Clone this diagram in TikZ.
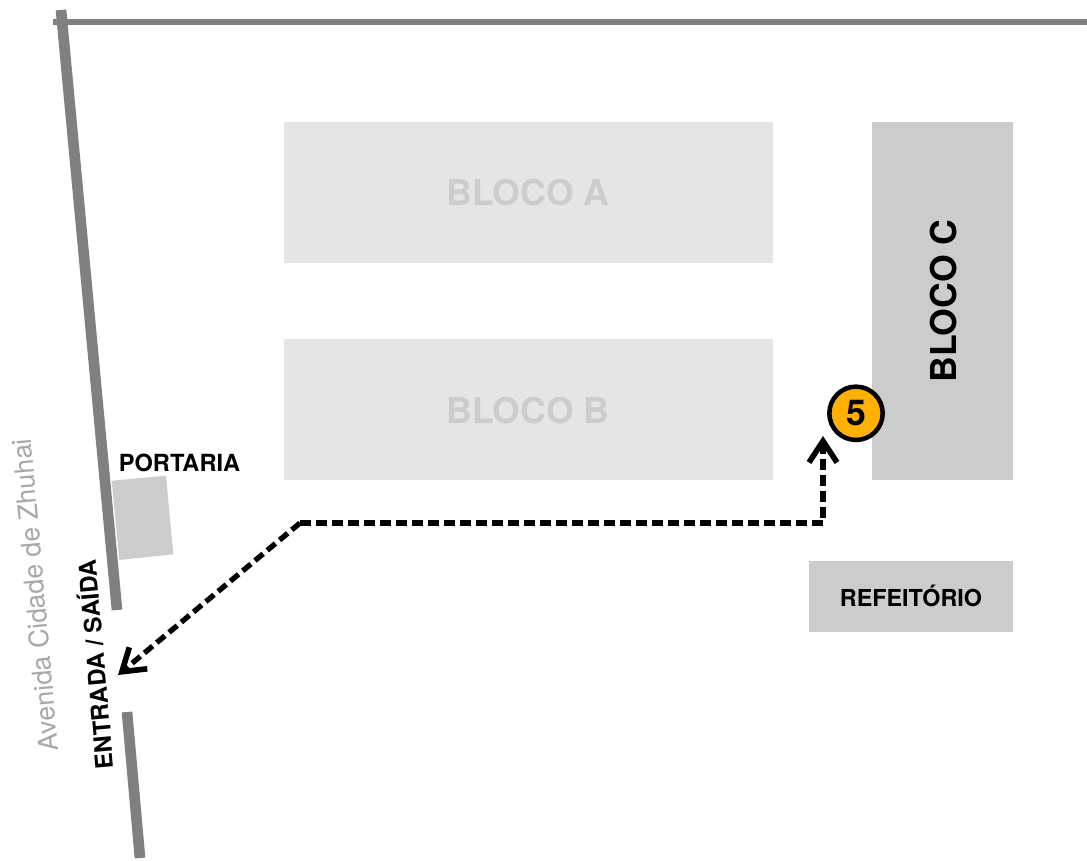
\documentclass[tikz,border=0pt]{standalone}
\usepackage{fontspec}
\setmainfont{TeX Gyre Heros}
\usetikzlibrary{arrows.meta}
\definecolor{roadc}{HTML}{808080}
\definecolor{bldlight}{HTML}{E5E5E5}
\definecolor{bldmid}{HTML}{CCCCCC}
\definecolor{lbllight}{HTML}{CCCCCC}
\definecolor{avec}{HTML}{A8A8A8}
\definecolor{pin}{HTML}{FFB000}
\newcommand{\pxfont}[1]{\fontsize{#1}{#1}\selectfont}
\tikzset{
  x=0.75pt,y=-0.75pt,
  road/.style={draw=roadc,line width=8pt},
  bld/.style={anchor=north west,inner sep=0pt,outer sep=0pt},
  route/.style={draw=black,line width=4pt,dash pattern=on 8pt off 4pt,
    -{Straight Barb[length=16pt,width=21pt,line width=4.2pt]}},
  bold/.style={font=\bfseries\pxfont{#1},text=black,inner sep=0pt},
}
\begin{document}
\begin{tikzpicture}
\useasboundingbox[fill=white] (0,0) rectangle (1087,860);
% roads
\coordinate (t1) at (53,22); \coordinate (t2) at (1087,22);
\coordinate (l1) at (61,10); \coordinate (l2) at (117,610);
\coordinate (m1) at (127,712); \coordinate (m2) at (140,858);
\draw[draw=roadc,line width=4.5pt] (t1) -- (t2);
\draw[road] (l1) -- (l2);
\draw[road] (m1) -- (m2);
% buildings
\node[bld,fill=bldlight,minimum width=367pt,minimum height=105.75pt] (A) at (284,122) {};
\node[bld,fill=bldlight,minimum width=367pt,minimum height=105.75pt] (B) at (284,339) {};
\node[bld,fill=bldmid,minimum width=105.75pt,minimum height=268.5pt] (C) at (872,122) {};
\node[bld,fill=bldmid,minimum width=153pt,minimum height=53.25pt] (R) at (809,561) {};
\fill[bldmid] (111.7,480.7) -- (166,475.7) -- (173.3,554.3) -- (119.3,560) -- cycle;
% labels
\node[bold=26.7,text=lbllight] (la) at (528,193) {BLOCO A};
\node[bold=26.7,text=lbllight] (lb) at (528,411) {BLOCO B};
\node[bold=26.7,rotate=90] (lc) at (943.5,301) {BLOCO C};
\node[bold=17.5] (lr) at (911,595.5) {REFEITÓRIO};
\node[bold=17.7] (lp) at (179.5,463) {PORTARIA};
\node[bold=18,rotate=95] (le) at (94,664.5) {ENTRADA / SAÍDA};
\node[font=\pxfont{20},text=avec,inner sep=0pt,rotate=95] (lv) at (35,595) {Avenida Cidade de Zhuhai};
% route
\coordinate (s) at (300,523);
\coordinate (c) at (823,523);
\coordinate (e1) at (823,436);
\coordinate (e2) at (118,675);
\draw[route] (s) -- (e2);
\draw[route] (s) -- (c) -- (e1);
% marker
\node[circle,draw=black,line width=3.4pt,fill=pin,minimum size=40pt,inner sep=0pt,font=\bfseries\pxfont{26.7}] (five) at (856,413.3) {5};
\end{tikzpicture}
\end{document}
